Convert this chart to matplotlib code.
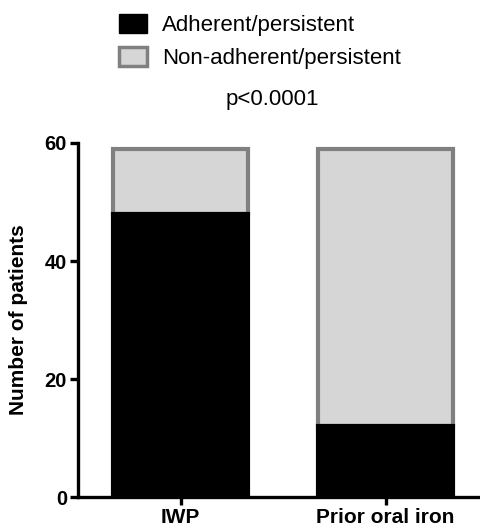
import matplotlib
matplotlib.use('Agg')
import matplotlib.pyplot as plt
from matplotlib.patches import Patch

plt.rcParams['font.family'] = ['Liberation Sans', 'DejaVu Sans']

groups = ['IWP', 'Prior oral iron']
adherent = [48, 12]
non_adherent = [11, 47]
yticks = [0, 20, 40, 60]

fig = plt.figure(figsize=(4.8, 5.31), dpi=100)
ax = fig.add_axes([0.1625, 0.064, 0.8375, 0.6667])

x = list(range(len(groups)))
w = 0.66
# grey part sits on top of the black part
ax.bar(x, non_adherent, w, bottom=adherent, color='#d6d6d6',
       edgecolor='#808080', linewidth=3, zorder=2)
ax.bar(x, adherent, w, color='black', edgecolor='black', linewidth=3, zorder=3)

ax.set_xlim(-0.5, 1.46)
ax.set_ylim(0, 60)
ax.set_yticks(yticks)
ax.set_xticks(x)
ax.set_xticklabels(groups, fontsize=15, fontweight='bold')
ax.set_yticklabels([str(t) for t in yticks], fontsize=14.5, fontweight='bold')
ax.set_ylabel('Number of patients', fontsize=15, fontweight='bold', labelpad=12)

for s in ['top', 'right']:
    ax.spines[s].set_visible(False)
for s in ['left', 'bottom']:
    ax.spines[s].set_linewidth(2.4)
ax.tick_params(width=2.4, length=6, pad=2)
ax.spines['left'].set_zorder(4)

handles = [Patch(facecolor='black', edgecolor='black', label='Adherent/persistent'),
           Patch(facecolor='#d6d6d6', edgecolor='#808080', linewidth=2.5,
                 label='Non-adherent/persistent')]
fig.legend(handles=handles, loc='upper left', bbox_to_anchor=(0.217, 1.0),
           frameon=False, fontsize=16, handlelength=1.3, handleheight=0.9,
           handletextpad=0.65, labelspacing=0.5, borderaxespad=0.25)

fig.text(0.567, 0.812, 'p<0.0001', fontsize=16, ha='center', va='center')

fig.savefig('out.png', dpi=100)
